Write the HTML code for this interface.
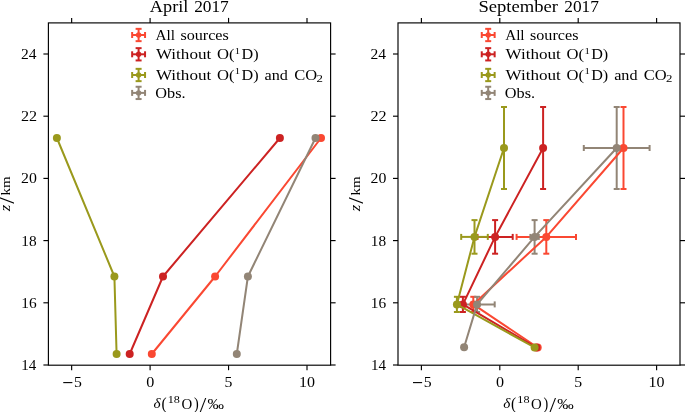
<!DOCTYPE html><html><head><meta charset="utf-8"><style>html,body{margin:0;padding:0;background:#fff;width:685px;height:412px;overflow:hidden}svg{display:block;will-change:transform}text{font-family:"Liberation Serif",serif;fill:#000}</style></head><body>
<svg width="685" height="412" viewBox="0 0 685 412">
<polyline points="321.00,138.00 215.10,276.50 151.80,354.00" fill="none" stroke="#fa4832" stroke-width="2.0" stroke-linejoin="round"/>
<circle cx="321.00" cy="138.00" r="4" fill="#fa4832"/>
<circle cx="215.10" cy="276.50" r="4" fill="#fa4832"/>
<circle cx="151.80" cy="354.00" r="4" fill="#fa4832"/>
<polyline points="279.90,138.00 163.00,276.50 129.70,354.00" fill="none" stroke="#cc2222" stroke-width="2.0" stroke-linejoin="round"/>
<circle cx="279.90" cy="138.00" r="4" fill="#cc2222"/>
<circle cx="163.00" cy="276.50" r="4" fill="#cc2222"/>
<circle cx="129.70" cy="354.00" r="4" fill="#cc2222"/>
<polyline points="56.90,138.00 114.40,276.50 116.60,354.00" fill="none" stroke="#9a991c" stroke-width="2.0" stroke-linejoin="round"/>
<circle cx="56.90" cy="138.00" r="4" fill="#9a991c"/>
<circle cx="114.40" cy="276.50" r="4" fill="#9a991c"/>
<circle cx="116.60" cy="354.00" r="4" fill="#9a991c"/>
<polyline points="315.50,138.00 247.90,276.50 236.80,354.00" fill="none" stroke="#928576" stroke-width="2.0" stroke-linejoin="round"/>
<circle cx="315.50" cy="138.00" r="4" fill="#928576"/>
<circle cx="247.90" cy="276.50" r="4" fill="#928576"/>
<circle cx="236.80" cy="354.00" r="4" fill="#928576"/>
<line x1="623.50" y1="107.00" x2="623.50" y2="189.00" stroke="#fa4832" stroke-width="2.0" />
<line x1="620.50" y1="107.00" x2="626.50" y2="107.00" stroke="#fa4832" stroke-width="2.0" />
<line x1="620.50" y1="189.00" x2="626.50" y2="189.00" stroke="#fa4832" stroke-width="2.0" />
<line x1="546.30" y1="220.10" x2="546.30" y2="253.70" stroke="#fa4832" stroke-width="2.0" />
<line x1="543.30" y1="220.10" x2="549.30" y2="220.10" stroke="#fa4832" stroke-width="2.0" />
<line x1="543.30" y1="253.70" x2="549.30" y2="253.70" stroke="#fa4832" stroke-width="2.0" />
<line x1="516.60" y1="236.90" x2="576.00" y2="236.90" stroke="#fa4832" stroke-width="2.0" />
<line x1="516.60" y1="233.90" x2="516.60" y2="239.90" stroke="#fa4832" stroke-width="2.0" />
<line x1="576.00" y1="233.90" x2="576.00" y2="239.90" stroke="#fa4832" stroke-width="2.0" />
<line x1="473.30" y1="296.80" x2="473.30" y2="312.00" stroke="#fa4832" stroke-width="2.0" />
<line x1="470.30" y1="296.80" x2="476.30" y2="296.80" stroke="#fa4832" stroke-width="2.0" />
<line x1="470.30" y1="312.00" x2="476.30" y2="312.00" stroke="#fa4832" stroke-width="2.0" />
<line x1="543.10" y1="107.00" x2="543.10" y2="189.00" stroke="#cc2222" stroke-width="2.0" />
<line x1="540.10" y1="107.00" x2="546.10" y2="107.00" stroke="#cc2222" stroke-width="2.0" />
<line x1="540.10" y1="189.00" x2="546.10" y2="189.00" stroke="#cc2222" stroke-width="2.0" />
<line x1="495.10" y1="220.10" x2="495.10" y2="253.70" stroke="#cc2222" stroke-width="2.0" />
<line x1="492.10" y1="220.10" x2="498.10" y2="220.10" stroke="#cc2222" stroke-width="2.0" />
<line x1="492.10" y1="253.70" x2="498.10" y2="253.70" stroke="#cc2222" stroke-width="2.0" />
<line x1="477.50" y1="236.90" x2="512.70" y2="236.90" stroke="#cc2222" stroke-width="2.0" />
<line x1="477.50" y1="233.90" x2="477.50" y2="239.90" stroke="#cc2222" stroke-width="2.0" />
<line x1="512.70" y1="233.90" x2="512.70" y2="239.90" stroke="#cc2222" stroke-width="2.0" />
<line x1="462.90" y1="296.80" x2="462.90" y2="312.00" stroke="#cc2222" stroke-width="2.0" />
<line x1="459.90" y1="296.80" x2="465.90" y2="296.80" stroke="#cc2222" stroke-width="2.0" />
<line x1="459.90" y1="312.00" x2="465.90" y2="312.00" stroke="#cc2222" stroke-width="2.0" />
<line x1="504.00" y1="107.00" x2="504.00" y2="189.00" stroke="#9a991c" stroke-width="2.0" />
<line x1="501.00" y1="107.00" x2="507.00" y2="107.00" stroke="#9a991c" stroke-width="2.0" />
<line x1="501.00" y1="189.00" x2="507.00" y2="189.00" stroke="#9a991c" stroke-width="2.0" />
<line x1="474.50" y1="220.10" x2="474.50" y2="253.70" stroke="#9a991c" stroke-width="2.0" />
<line x1="471.50" y1="220.10" x2="477.50" y2="220.10" stroke="#9a991c" stroke-width="2.0" />
<line x1="471.50" y1="253.70" x2="477.50" y2="253.70" stroke="#9a991c" stroke-width="2.0" />
<line x1="461.20" y1="236.90" x2="487.80" y2="236.90" stroke="#9a991c" stroke-width="2.0" />
<line x1="461.20" y1="233.90" x2="461.20" y2="239.90" stroke="#9a991c" stroke-width="2.0" />
<line x1="487.80" y1="233.90" x2="487.80" y2="239.90" stroke="#9a991c" stroke-width="2.0" />
<line x1="456.90" y1="296.80" x2="456.90" y2="312.00" stroke="#9a991c" stroke-width="2.0" />
<line x1="453.90" y1="296.80" x2="459.90" y2="296.80" stroke="#9a991c" stroke-width="2.0" />
<line x1="453.90" y1="312.00" x2="459.90" y2="312.00" stroke="#9a991c" stroke-width="2.0" />
<line x1="616.70" y1="107.00" x2="616.70" y2="189.00" stroke="#928576" stroke-width="2.0" />
<line x1="613.70" y1="107.00" x2="619.70" y2="107.00" stroke="#928576" stroke-width="2.0" />
<line x1="613.70" y1="189.00" x2="619.70" y2="189.00" stroke="#928576" stroke-width="2.0" />
<line x1="583.80" y1="148.00" x2="649.60" y2="148.00" stroke="#928576" stroke-width="2.0" />
<line x1="583.80" y1="145.00" x2="583.80" y2="151.00" stroke="#928576" stroke-width="2.0" />
<line x1="649.60" y1="145.00" x2="649.60" y2="151.00" stroke="#928576" stroke-width="2.0" />
<line x1="534.60" y1="220.10" x2="534.60" y2="253.70" stroke="#928576" stroke-width="2.0" />
<line x1="531.60" y1="220.10" x2="537.60" y2="220.10" stroke="#928576" stroke-width="2.0" />
<line x1="531.60" y1="253.70" x2="537.60" y2="253.70" stroke="#928576" stroke-width="2.0" />
<line x1="530.40" y1="236.90" x2="538.80" y2="236.90" stroke="#928576" stroke-width="2.0" />
<line x1="530.40" y1="233.90" x2="530.40" y2="239.90" stroke="#928576" stroke-width="2.0" />
<line x1="538.80" y1="233.90" x2="538.80" y2="239.90" stroke="#928576" stroke-width="2.0" />
<line x1="477.10" y1="296.80" x2="477.10" y2="312.00" stroke="#928576" stroke-width="2.0" />
<line x1="474.10" y1="296.80" x2="480.10" y2="296.80" stroke="#928576" stroke-width="2.0" />
<line x1="474.10" y1="312.00" x2="480.10" y2="312.00" stroke="#928576" stroke-width="2.0" />
<line x1="459.50" y1="304.40" x2="494.70" y2="304.40" stroke="#928576" stroke-width="2.0" />
<line x1="459.50" y1="301.40" x2="459.50" y2="307.40" stroke="#928576" stroke-width="2.0" />
<line x1="494.70" y1="301.40" x2="494.70" y2="307.40" stroke="#928576" stroke-width="2.0" />
<polyline points="623.50,148.00 546.30,236.90 473.30,304.40 537.70,347.50" fill="none" stroke="#fa4832" stroke-width="2.0" stroke-linejoin="round"/>
<circle cx="623.50" cy="148.00" r="4" fill="#fa4832"/>
<circle cx="546.30" cy="236.90" r="4" fill="#fa4832"/>
<circle cx="473.30" cy="304.40" r="4" fill="#fa4832"/>
<circle cx="537.70" cy="347.50" r="4" fill="#fa4832"/>
<polyline points="543.10,148.00 495.10,236.90 462.90,304.40 536.30,347.50" fill="none" stroke="#cc2222" stroke-width="2.0" stroke-linejoin="round"/>
<circle cx="543.10" cy="148.00" r="4" fill="#cc2222"/>
<circle cx="495.10" cy="236.90" r="4" fill="#cc2222"/>
<circle cx="462.90" cy="304.40" r="4" fill="#cc2222"/>
<circle cx="536.30" cy="347.50" r="4" fill="#cc2222"/>
<polyline points="504.00,148.00 474.50,236.90 456.90,304.40 534.60,347.50" fill="none" stroke="#9a991c" stroke-width="2.0" stroke-linejoin="round"/>
<circle cx="504.00" cy="148.00" r="4" fill="#9a991c"/>
<circle cx="474.50" cy="236.90" r="4" fill="#9a991c"/>
<circle cx="456.90" cy="304.40" r="4" fill="#9a991c"/>
<circle cx="534.60" cy="347.50" r="4" fill="#9a991c"/>
<polyline points="616.70,148.00 534.60,236.90 477.10,304.40 464.10,347.20" fill="none" stroke="#928576" stroke-width="2.0" stroke-linejoin="round"/>
<circle cx="616.70" cy="148.00" r="4" fill="#928576"/>
<circle cx="534.60" cy="236.90" r="4" fill="#928576"/>
<circle cx="477.10" cy="304.40" r="4" fill="#928576"/>
<circle cx="464.10" cy="347.20" r="4" fill="#928576"/>
<rect x="48.4" y="22.9" width="282.20" height="342.30" fill="none" stroke="#000" stroke-width="1.15"/>
<line x1="43.40" y1="365.00" x2="48.40" y2="365.00" stroke="#000" stroke-width="1.15" />
<line x1="330.60" y1="365.00" x2="335.60" y2="365.00" stroke="#000" stroke-width="1.15" />
<line x1="43.40" y1="302.80" x2="48.40" y2="302.80" stroke="#000" stroke-width="1.15" />
<line x1="330.60" y1="302.80" x2="335.60" y2="302.80" stroke="#000" stroke-width="1.15" />
<line x1="43.40" y1="240.60" x2="48.40" y2="240.60" stroke="#000" stroke-width="1.15" />
<line x1="330.60" y1="240.60" x2="335.60" y2="240.60" stroke="#000" stroke-width="1.15" />
<line x1="43.40" y1="178.40" x2="48.40" y2="178.40" stroke="#000" stroke-width="1.15" />
<line x1="330.60" y1="178.40" x2="335.60" y2="178.40" stroke="#000" stroke-width="1.15" />
<line x1="43.40" y1="116.20" x2="48.40" y2="116.20" stroke="#000" stroke-width="1.15" />
<line x1="330.60" y1="116.20" x2="335.60" y2="116.20" stroke="#000" stroke-width="1.15" />
<line x1="43.40" y1="54.00" x2="48.40" y2="54.00" stroke="#000" stroke-width="1.15" />
<line x1="330.60" y1="54.00" x2="335.60" y2="54.00" stroke="#000" stroke-width="1.15" />
<line x1="71.65" y1="17.90" x2="71.65" y2="22.90" stroke="#000" stroke-width="1.15" />
<line x1="71.65" y1="365.20" x2="71.65" y2="370.20" stroke="#000" stroke-width="1.15" />
<line x1="150.10" y1="17.90" x2="150.10" y2="22.90" stroke="#000" stroke-width="1.15" />
<line x1="150.10" y1="365.20" x2="150.10" y2="370.20" stroke="#000" stroke-width="1.15" />
<line x1="228.55" y1="17.90" x2="228.55" y2="22.90" stroke="#000" stroke-width="1.15" />
<line x1="228.55" y1="365.20" x2="228.55" y2="370.20" stroke="#000" stroke-width="1.15" />
<line x1="307.00" y1="17.90" x2="307.00" y2="22.90" stroke="#000" stroke-width="1.15" />
<line x1="307.00" y1="365.20" x2="307.00" y2="370.20" stroke="#000" stroke-width="1.15" />
<rect x="398.0" y="22.9" width="282.00" height="342.30" fill="none" stroke="#000" stroke-width="1.15"/>
<line x1="393.00" y1="365.00" x2="398.00" y2="365.00" stroke="#000" stroke-width="1.15" />
<line x1="680.00" y1="365.00" x2="685.00" y2="365.00" stroke="#000" stroke-width="1.15" />
<line x1="393.00" y1="302.80" x2="398.00" y2="302.80" stroke="#000" stroke-width="1.15" />
<line x1="680.00" y1="302.80" x2="685.00" y2="302.80" stroke="#000" stroke-width="1.15" />
<line x1="393.00" y1="240.60" x2="398.00" y2="240.60" stroke="#000" stroke-width="1.15" />
<line x1="680.00" y1="240.60" x2="685.00" y2="240.60" stroke="#000" stroke-width="1.15" />
<line x1="393.00" y1="178.40" x2="398.00" y2="178.40" stroke="#000" stroke-width="1.15" />
<line x1="680.00" y1="178.40" x2="685.00" y2="178.40" stroke="#000" stroke-width="1.15" />
<line x1="393.00" y1="116.20" x2="398.00" y2="116.20" stroke="#000" stroke-width="1.15" />
<line x1="680.00" y1="116.20" x2="685.00" y2="116.20" stroke="#000" stroke-width="1.15" />
<line x1="393.00" y1="54.00" x2="398.00" y2="54.00" stroke="#000" stroke-width="1.15" />
<line x1="680.00" y1="54.00" x2="685.00" y2="54.00" stroke="#000" stroke-width="1.15" />
<line x1="421.40" y1="17.90" x2="421.40" y2="22.90" stroke="#000" stroke-width="1.15" />
<line x1="421.40" y1="365.20" x2="421.40" y2="370.20" stroke="#000" stroke-width="1.15" />
<line x1="499.80" y1="17.90" x2="499.80" y2="22.90" stroke="#000" stroke-width="1.15" />
<line x1="499.80" y1="365.20" x2="499.80" y2="370.20" stroke="#000" stroke-width="1.15" />
<line x1="578.20" y1="17.90" x2="578.20" y2="22.90" stroke="#000" stroke-width="1.15" />
<line x1="578.20" y1="365.20" x2="578.20" y2="370.20" stroke="#000" stroke-width="1.15" />
<line x1="656.60" y1="17.90" x2="656.60" y2="22.90" stroke="#000" stroke-width="1.15" />
<line x1="656.60" y1="365.20" x2="656.60" y2="370.20" stroke="#000" stroke-width="1.15" />
<text transform="translate(21.28,370.00) scale(1.0588,1.0162)" font-size="14.2">14</text>
<text transform="translate(21.25,307.80) scale(1.0800,1.0162)" font-size="14.2">16</text>
<text transform="translate(21.25,245.60) scale(1.0800,0.9895)" font-size="14.2">18</text>
<text transform="translate(20.96,183.40) scale(1.1154,0.9895)" font-size="14.2">20</text>
<text transform="translate(20.95,121.20) scale(1.1373,1.0162)" font-size="14.2">22</text>
<text transform="translate(20.98,59.00) scale(1.0943,1.0162)" font-size="14.2">24</text>
<rect x="63.25" y="382.05" width="9.1" height="1.1" fill="#000"/>
<text transform="translate(74.02,386.80) scale(1.1130,1.0595)" font-size="14.2">5</text>
<text transform="translate(146.23,386.80) scale(1.1333,1.0316)" font-size="14.2">0</text>
<text transform="translate(224.52,386.80) scale(1.1130,1.0595)" font-size="14.2">5</text>
<text transform="translate(298.89,386.80) scale(1.1280,1.0316)" font-size="14.2">10</text>
<text transform="translate(370.88,370.00) scale(1.0588,1.0162)" font-size="14.2">14</text>
<text transform="translate(370.85,307.80) scale(1.0800,1.0162)" font-size="14.2">16</text>
<text transform="translate(370.85,245.60) scale(1.0800,0.9895)" font-size="14.2">18</text>
<text transform="translate(370.56,183.40) scale(1.1154,0.9895)" font-size="14.2">20</text>
<text transform="translate(370.55,121.20) scale(1.1373,1.0162)" font-size="14.2">22</text>
<text transform="translate(370.58,59.00) scale(1.0943,1.0162)" font-size="14.2">24</text>
<rect x="413.00" y="382.05" width="9.1" height="1.1" fill="#000"/>
<text transform="translate(423.77,386.80) scale(1.1130,1.0595)" font-size="14.2">5</text>
<text transform="translate(495.93,386.80) scale(1.1333,1.0316)" font-size="14.2">0</text>
<text transform="translate(574.17,386.80) scale(1.1130,1.0595)" font-size="14.2">5</text>
<text transform="translate(648.49,386.80) scale(1.1280,1.0316)" font-size="14.2">10</text>
<text transform="translate(149.83,11.70) scale(1.0752,1.0000)" font-size="17">April</text>
<text transform="translate(194.14,11.56) scale(1.0198,0.9609)" font-size="17">2017</text>
<text transform="translate(478.43,11.70) scale(1.0947,1.0000)" font-size="17">September</text>
<text transform="translate(564.24,11.56) scale(1.0198,0.9609)" font-size="17">2017</text>
<text transform="translate(153.56,408.30) scale(1.0720,1.0000)" font-size="14.2"><tspan font-style="italic">δ</tspan></text>
<text transform="translate(161.49,409.04) scale(1.0857,1.1216)" font-size="14.2">(</text>
<text transform="translate(167.75,402.80) scale(1.2706,1.0000)" font-size="9.6">18</text>
<text transform="translate(181.38,408.80) scale(1.0486,1.0000)" font-size="14.2">O</text>
<text transform="translate(193.90,409.04) scale(1.0000,1.1216)" font-size="14.2">)</text>
<text transform="translate(199.80,412.30) scale(1.6533,1.5351)" font-size="14.2">/</text>
<text transform="translate(207.61,408.80) scale(1.1630,1.0000)" font-size="14.2">‰</text>
<text transform="translate(155.53,39.70) scale(1.0743,1.0000)" font-size="14.2">All</text>
<text transform="translate(180.43,39.70) scale(1.1373,1.0000)" font-size="14.2">sources</text>
<text transform="translate(155.90,59.00) scale(1.2044,1.0000)" font-size="14.2">Without</text>
<text transform="translate(216.91,59.00) scale(1.1714,1.0000)" font-size="14.2">O(</text>
<text transform="translate(234.80,53.70) scale(1.2000,0.9167)" font-size="9.0">1</text>
<text transform="translate(241.53,59.00) scale(1.1418,1.0000)" font-size="14.2">D)</text>
<text transform="translate(155.90,79.70) scale(1.2044,1.0000)" font-size="14.2">Without</text>
<text transform="translate(216.91,79.70) scale(1.1714,1.0000)" font-size="14.2">O(</text>
<text transform="translate(234.80,74.20) scale(1.2000,1.0000)" font-size="9.0">1</text>
<text transform="translate(241.53,79.70) scale(1.1418,1.0000)" font-size="14.2">D)</text>
<text transform="translate(264.53,79.70) scale(1.1392,1.0000)" font-size="14.2">and</text>
<text transform="translate(294.22,79.70) scale(1.1622,1.0000)" font-size="14.2">CO</text>
<text transform="translate(316.43,81.80) scale(1.3333,1.0560)" font-size="9.6">2</text>
<text transform="translate(155.23,98.00) scale(1.1480,1.0000)" font-size="14.2">Obs.</text>
<text transform="translate(503.16,408.30) scale(1.0720,1.0000)" font-size="14.2"><tspan font-style="italic">δ</tspan></text>
<text transform="translate(511.09,409.04) scale(1.0857,1.1216)" font-size="14.2">(</text>
<text transform="translate(517.35,402.80) scale(1.2706,1.0000)" font-size="9.6">18</text>
<text transform="translate(530.98,408.80) scale(1.0486,1.0000)" font-size="14.2">O</text>
<text transform="translate(543.50,409.04) scale(1.0000,1.1216)" font-size="14.2">)</text>
<text transform="translate(549.40,412.30) scale(1.6533,1.5351)" font-size="14.2">/</text>
<text transform="translate(557.21,408.80) scale(1.1630,1.0000)" font-size="14.2">‰</text>
<text transform="translate(505.13,39.70) scale(1.0743,1.0000)" font-size="14.2">All</text>
<text transform="translate(530.03,39.70) scale(1.1373,1.0000)" font-size="14.2">sources</text>
<text transform="translate(505.50,59.00) scale(1.2044,1.0000)" font-size="14.2">Without</text>
<text transform="translate(566.51,59.00) scale(1.1714,1.0000)" font-size="14.2">O(</text>
<text transform="translate(584.40,53.70) scale(1.2000,0.9167)" font-size="9.0">1</text>
<text transform="translate(591.13,59.00) scale(1.1418,1.0000)" font-size="14.2">D)</text>
<text transform="translate(505.50,79.70) scale(1.2044,1.0000)" font-size="14.2">Without</text>
<text transform="translate(566.51,79.70) scale(1.1714,1.0000)" font-size="14.2">O(</text>
<text transform="translate(584.40,74.20) scale(1.2000,1.0000)" font-size="9.0">1</text>
<text transform="translate(591.13,79.70) scale(1.1418,1.0000)" font-size="14.2">D)</text>
<text transform="translate(614.13,79.70) scale(1.1392,1.0000)" font-size="14.2">and</text>
<text transform="translate(643.82,79.70) scale(1.1622,1.0000)" font-size="14.2">CO</text>
<text transform="translate(666.03,81.80) scale(1.3333,1.0560)" font-size="9.6">2</text>
<text transform="translate(504.83,98.00) scale(1.1480,1.0000)" font-size="14.2">Obs.</text>
<text transform="translate(0.00,211.5) rotate(-90) translate(0.29,10.20) scale(1.1636,0.9846)" font-size="14.2"><tspan font-style="italic">z</tspan></text>
<text transform="translate(349.60,211.5) rotate(-90) translate(0.29,10.20) scale(1.1636,0.9846)" font-size="14.2"><tspan font-style="italic">z</tspan></text>
<text transform="translate(0.00,211.5) rotate(-90) translate(7.80,13.70) scale(1.6267,1.4811)" font-size="14.2">/</text>
<text transform="translate(349.60,211.5) rotate(-90) translate(7.80,13.70) scale(1.6267,1.4811)" font-size="14.2">/</text>
<text transform="translate(0.00,211.5) rotate(-90) translate(16.04,9.90) scale(1.0592,0.8923)" font-size="14.2">km</text>
<text transform="translate(349.60,211.5) rotate(-90) translate(16.04,9.90) scale(1.0592,0.8923)" font-size="14.2">km</text>
<line x1="132.15" y1="35.00" x2="145.05" y2="35.00" stroke="#fa4832" stroke-width="2.0" />
<line x1="138.60" y1="28.85" x2="138.60" y2="41.15" stroke="#fa4832" stroke-width="2.0" />
<line x1="135.60" y1="28.85" x2="141.60" y2="28.85" stroke="#fa4832" stroke-width="2.0" />
<line x1="135.60" y1="41.15" x2="141.60" y2="41.15" stroke="#fa4832" stroke-width="2.0" />
<line x1="132.15" y1="32.00" x2="132.15" y2="38.00" stroke="#fa4832" stroke-width="2.0" />
<line x1="145.05" y1="32.00" x2="145.05" y2="38.00" stroke="#fa4832" stroke-width="2.0" />
<circle cx="138.60" cy="35.00" r="2.7" fill="#fa4832"/>
<line x1="132.15" y1="54.30" x2="145.05" y2="54.30" stroke="#cc2222" stroke-width="2.0" />
<line x1="138.60" y1="48.15" x2="138.60" y2="60.45" stroke="#cc2222" stroke-width="2.0" />
<line x1="135.60" y1="48.15" x2="141.60" y2="48.15" stroke="#cc2222" stroke-width="2.0" />
<line x1="135.60" y1="60.45" x2="141.60" y2="60.45" stroke="#cc2222" stroke-width="2.0" />
<line x1="132.15" y1="51.30" x2="132.15" y2="57.30" stroke="#cc2222" stroke-width="2.0" />
<line x1="145.05" y1="51.30" x2="145.05" y2="57.30" stroke="#cc2222" stroke-width="2.0" />
<circle cx="138.60" cy="54.30" r="2.7" fill="#cc2222"/>
<line x1="132.15" y1="75.00" x2="145.05" y2="75.00" stroke="#9a991c" stroke-width="2.0" />
<line x1="138.60" y1="68.85" x2="138.60" y2="81.15" stroke="#9a991c" stroke-width="2.0" />
<line x1="135.60" y1="68.85" x2="141.60" y2="68.85" stroke="#9a991c" stroke-width="2.0" />
<line x1="135.60" y1="81.15" x2="141.60" y2="81.15" stroke="#9a991c" stroke-width="2.0" />
<line x1="132.15" y1="72.00" x2="132.15" y2="78.00" stroke="#9a991c" stroke-width="2.0" />
<line x1="145.05" y1="72.00" x2="145.05" y2="78.00" stroke="#9a991c" stroke-width="2.0" />
<circle cx="138.60" cy="75.00" r="2.7" fill="#9a991c"/>
<line x1="132.15" y1="92.90" x2="145.05" y2="92.90" stroke="#928576" stroke-width="2.0" />
<line x1="138.60" y1="86.75" x2="138.60" y2="99.05" stroke="#928576" stroke-width="2.0" />
<line x1="135.60" y1="86.75" x2="141.60" y2="86.75" stroke="#928576" stroke-width="2.0" />
<line x1="135.60" y1="99.05" x2="141.60" y2="99.05" stroke="#928576" stroke-width="2.0" />
<line x1="132.15" y1="89.90" x2="132.15" y2="95.90" stroke="#928576" stroke-width="2.0" />
<line x1="145.05" y1="89.90" x2="145.05" y2="95.90" stroke="#928576" stroke-width="2.0" />
<circle cx="138.60" cy="92.90" r="2.7" fill="#928576"/>
<line x1="481.75" y1="35.00" x2="494.65" y2="35.00" stroke="#fa4832" stroke-width="2.0" />
<line x1="488.20" y1="28.85" x2="488.20" y2="41.15" stroke="#fa4832" stroke-width="2.0" />
<line x1="485.20" y1="28.85" x2="491.20" y2="28.85" stroke="#fa4832" stroke-width="2.0" />
<line x1="485.20" y1="41.15" x2="491.20" y2="41.15" stroke="#fa4832" stroke-width="2.0" />
<line x1="481.75" y1="32.00" x2="481.75" y2="38.00" stroke="#fa4832" stroke-width="2.0" />
<line x1="494.65" y1="32.00" x2="494.65" y2="38.00" stroke="#fa4832" stroke-width="2.0" />
<circle cx="488.20" cy="35.00" r="2.7" fill="#fa4832"/>
<line x1="481.75" y1="54.30" x2="494.65" y2="54.30" stroke="#cc2222" stroke-width="2.0" />
<line x1="488.20" y1="48.15" x2="488.20" y2="60.45" stroke="#cc2222" stroke-width="2.0" />
<line x1="485.20" y1="48.15" x2="491.20" y2="48.15" stroke="#cc2222" stroke-width="2.0" />
<line x1="485.20" y1="60.45" x2="491.20" y2="60.45" stroke="#cc2222" stroke-width="2.0" />
<line x1="481.75" y1="51.30" x2="481.75" y2="57.30" stroke="#cc2222" stroke-width="2.0" />
<line x1="494.65" y1="51.30" x2="494.65" y2="57.30" stroke="#cc2222" stroke-width="2.0" />
<circle cx="488.20" cy="54.30" r="2.7" fill="#cc2222"/>
<line x1="481.75" y1="75.00" x2="494.65" y2="75.00" stroke="#9a991c" stroke-width="2.0" />
<line x1="488.20" y1="68.85" x2="488.20" y2="81.15" stroke="#9a991c" stroke-width="2.0" />
<line x1="485.20" y1="68.85" x2="491.20" y2="68.85" stroke="#9a991c" stroke-width="2.0" />
<line x1="485.20" y1="81.15" x2="491.20" y2="81.15" stroke="#9a991c" stroke-width="2.0" />
<line x1="481.75" y1="72.00" x2="481.75" y2="78.00" stroke="#9a991c" stroke-width="2.0" />
<line x1="494.65" y1="72.00" x2="494.65" y2="78.00" stroke="#9a991c" stroke-width="2.0" />
<circle cx="488.20" cy="75.00" r="2.7" fill="#9a991c"/>
<line x1="481.75" y1="92.90" x2="494.65" y2="92.90" stroke="#928576" stroke-width="2.0" />
<line x1="488.20" y1="86.75" x2="488.20" y2="99.05" stroke="#928576" stroke-width="2.0" />
<line x1="485.20" y1="86.75" x2="491.20" y2="86.75" stroke="#928576" stroke-width="2.0" />
<line x1="485.20" y1="99.05" x2="491.20" y2="99.05" stroke="#928576" stroke-width="2.0" />
<line x1="481.75" y1="89.90" x2="481.75" y2="95.90" stroke="#928576" stroke-width="2.0" />
<line x1="494.65" y1="89.90" x2="494.65" y2="95.90" stroke="#928576" stroke-width="2.0" />
<circle cx="488.20" cy="92.90" r="2.7" fill="#928576"/>
</svg></body></html>
